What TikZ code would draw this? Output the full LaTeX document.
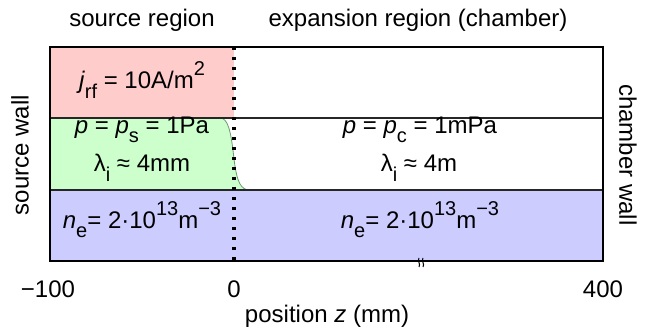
\documentclass[tikz,border=0pt]{standalone}
\usepackage{fontspec}
\setmainfont{Liberation Sans}
\definecolor{srcpink}{HTML}{FFCCCC}
\definecolor{gasgreen}{HTML}{CCFFCC}
\definecolor{plasblue}{HTML}{CCCCFF}
\definecolor{edgegreen}{HTML}{6E9A6E}
\newcommand\lowtxt[1]{\raisebox{-0.75ex}{\fontsize{10}{10}\selectfont #1}}
\newcommand\hightxt[1]{\raisebox{1.0ex}{\fontsize{10}{10}\selectfont #1}}

\begin{document}
\begin{tikzpicture}[x=0.5pt,y=0.5pt,
  lbl/.style={font=\fontsize{12}{14}\selectfont, inner sep=0pt, align=center},
  sep/.style={draw=black!85, line width=0.6pt},
  frame/.style={draw=black, line width=1pt},
  mid/.style={line width=1.6pt, dash pattern=on 1.4pt off 3.6pt},
  brk/.style={line width=0.5pt}
]
\def\xL{50} \def\xM{234} \def\xR{603}
\def\yT{284} \def\yA{213} \def\yB{141} \def\yBot{70}
\useasboundingbox (0,0) rectangle (650,331);

% coloured regions
\fill[srcpink] (\xL,\yA) rectangle (\xM,\yT);
\fill[plasblue] (\xL,\yBot) rectangle (\xR,\yB);
\fill[gasgreen] (\xL,\yB) -- (\xL,\yA) -- (220,\yA)
  .. controls (228,\yA) and (231,200) .. (234,172)
  .. controls (237,148) and (241,\yB) .. (250,\yB) -- cycle;
\draw[edgegreen, line width=0.4pt] (220,\yA)
  .. controls (228,\yA) and (231,200) .. (234,172)
  .. controls (237,148) and (241,\yB) .. (250,\yB);

% layer borders and frame
\draw[sep] (\xL,\yA) -- (\xR,\yA);
\draw[sep] (\xL,\yB) -- (\xR,\yB);
\draw[mid] (\xM,\yT) -- (\xM,\yBot);
\draw[frame] (\xL,\yBot) rectangle (\xR,\yT);

% axis break
\draw[brk] (419,73) .. controls (417,70) and (421,67) .. (419,64);
\draw[brk] (423,73) .. controls (421,70) and (425,67) .. (423,64);

% headings
\node[lbl] (srcreg) at (142,311) {source region};
\node[lbl] (expreg) at (418,311) {expansion region (chamber)};
\node[lbl, rotate=90] (srcwall) at (20,176) {source wall};
\node[lbl, rotate=-90] (chwall) at (628,176) {chamber wall};

% values in the layers
\node[lbl] (jrf) at (142,251) {\textit{j}\lowtxt{rf} = 10A/m\hightxt{2}};
\node[lbl] (psrc) at (142,201) {\textit{p} = \textit{p}\lowtxt{s} = 1Pa};
\node[lbl] (lsrc) at (142,163) {λ\lowtxt{i} ≈ 4mm};
\node[lbl] (nsrc) at (142,111) {\textit{n}\lowtxt{e}= 2·10\hightxt{13}m\hightxt{−3}};
\node[lbl] (pch) at (420,201) {\textit{p} = \textit{p}\lowtxt{c} = 1mPa};
\node[lbl] (lch) at (419,163) {λ\lowtxt{i} ≈ 4m};
\node[lbl] (nch) at (420,111) {\textit{n}\lowtxt{e}= 2·10\hightxt{13}m\hightxt{−3}};

% axis
\node[lbl] (tA) at (48,42) {−100};
\node[lbl] (tB) at (\xM,42) {0};
\node[lbl] (tC) at (\xR,42) {400};
\node[lbl] (xlab) at (327,15) {position \textit{z} (mm)};
\end{tikzpicture}
\end{document}
